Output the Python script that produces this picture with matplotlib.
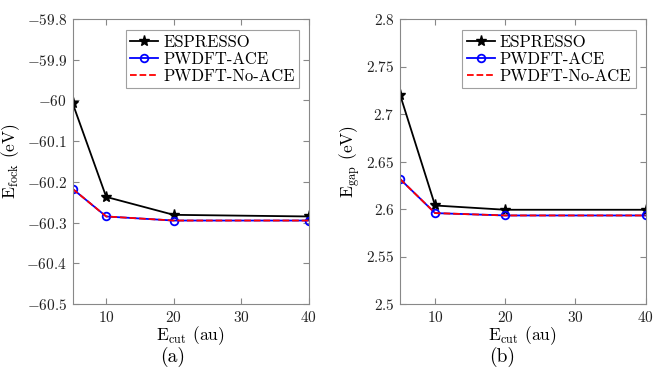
import matplotlib
matplotlib.use("Agg")
import matplotlib.pyplot as plt

plt.rcParams['font.family'] = ['cmr10', 'DejaVu Serif']
plt.rcParams['mathtext.fontset'] = 'cm'
plt.rcParams['axes.unicode_minus'] = False
plt.rcParams['font.size'] = 11

ecut = [5, 10, 20, 40]

fock_espresso = [-60.006, -60.237, -60.281, -60.285]
fock_ace = [-60.217, -60.285, -60.295, -60.295]
fock_noace = [-60.217, -60.285, -60.295, -60.295]

gap_espresso = [2.7205, 2.6037, 2.5992, 2.5992]
gap_ace = [2.6316, 2.5957, 2.5932, 2.5932]
gap_noace = [2.6316, 2.5957, 2.5932, 2.5932]

labels = ["ESPRESSO", "PWDFT-ACE", "PWDFT-No-ACE"]
xticks = [10, 20, 30, 40]
fock_ticks = [-60.5, -60.4, -60.3, -60.2, -60.1, -60.0, -59.9, -59.8]
gap_ticks = [2.5, 2.55, 2.6, 2.65, 2.7, 2.75, 2.8]

fig = plt.figure(figsize=(6.54, 3.75), dpi=100)
ax1 = fig.add_axes([72.5/654, 1-304/375, 236/654, 285/375])
ax2 = fig.add_axes([400/654, 1-304/375, 245.5/654, 285/375])

panels = [
    (ax1, fock_espresso, fock_ace, fock_noace, fock_ticks,
     r'$\mathrm{E_{fock}}$ (eV)', '(a)', 173/654),
    (ax2, gap_espresso, gap_ace, gap_noace, gap_ticks,
     r'$\mathrm{E_{gap}}$ (eV)', '(b)', 502/654),
]

for ax, esp, ace, noace, yt, ylab, cap, capx in panels:
    ax.plot(ecut, esp, '-', color='black', marker='*', ms=8, lw=1.3,
            label=labels[0])
    ax.plot(ecut, ace, '-', color='blue', marker='o', ms=5.5, mfc='none',
            mew=1.3, lw=1.3, label=labels[1])
    ax.plot(ecut, noace, '--', color='red', lw=1.3, label=labels[2])
    ax.set_xlim(5, 40)
    ax.set_ylim(yt[0], yt[-1])
    ax.set_xticks(xticks)
    ax.set_xticklabels(['$%d$' % v for v in xticks])
    ax.set_yticks(yt)
    ax.set_yticklabels(['$%g$' % v for v in yt])
    for s in ax.spines.values():
        s.set_color('#888888')
        s.set_linewidth(0.8)
    ax.tick_params(direction='in', top=True, right=True, color='#888888',
                   labelcolor='#222222', length=4, labelsize=11, pad=4)
    ax.set_xlabel(r'$\mathrm{E_{cut}}$ (au)', fontsize=12.5, labelpad=0)
    ax.set_ylabel(ylab, fontsize=12.5, labelpad=3)
    fig.text(capx, 1 - 357/375, cap, ha='center', va='center', fontsize=14)
    leg = ax.legend(loc='upper right', bbox_to_anchor=(0.96, 0.96),
                    borderaxespad=0, fancybox=False, fontsize=12,
                    handlelength=1.7, handletextpad=0.3, borderpad=0.25,
                    labelspacing=0.1)
    leg.get_frame().set_edgecolor('#888888')
    leg.get_frame().set_linewidth(0.8)

fig.savefig('out.png', dpi=100)
